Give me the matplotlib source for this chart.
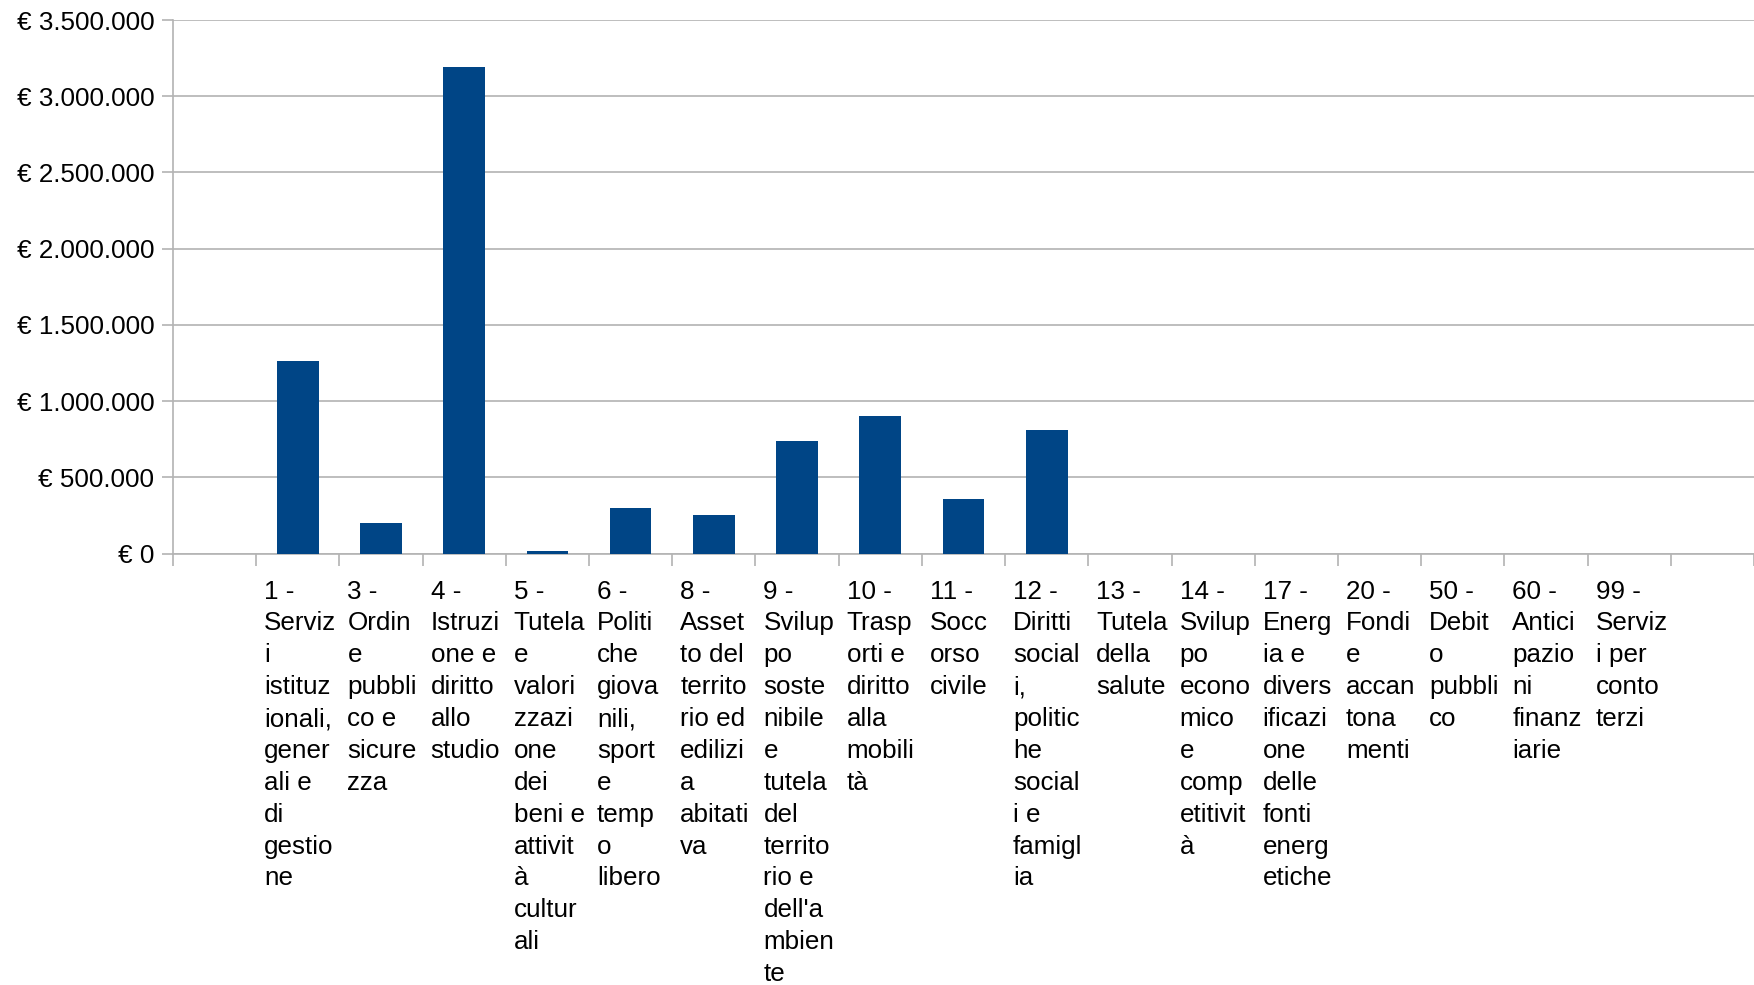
import matplotlib.pyplot as plt
import numpy as np
from matplotlib.ticker import FuncFormatter, MultipleLocator
from matplotlib.transforms import ScaledTranslation

plt.rcParams['font.family'] = ['Liberation Sans', 'DejaVu Sans']

# categories (first and last slot are empty in the original chart)
labels = ['',
          "1 -\nServiz\ni\nistituz\nionali,\ngener\nali e\ndi\ngestio\nne",
          "3 -\nOrdin\ne\npubbli\nco e\nsicure\nzza",
          "4 -\nIstruzi\none e\ndiritto\nallo\nstudio",
          "5 -\nTutela\ne\nvalori\nzzazi\none\ndei\nbeni e\nattivit\nà\ncultur\nali",
          "6 -\nPoliti\nche\ngiova\nnili,\nsport\ne\ntemp\no\nlibero",
          "8 -\nAsset\nto del\nterrito\nrio ed\nedilizi\na\nabitati\nva",
          "9 -\nSvilup\npo\nsoste\nnibile\ne\ntutela\ndel\nterrito\nrio e\ndell'a\nmbien\nte",
          "10 -\nTrasp\norti e\ndiritto\nalla\nmobili\ntà",
          "11 -\nSocc\norso\ncivile",
          "12 -\nDiritti\nsocial\ni,\npolitic\nhe\nsocial\ni e\nfamigl\nia",
          "13 -\nTutela\ndella\nsalute",
          "14 -\nSvilup\npo\necono\nmico\ne\ncomp\netitivit\nà",
          "17 -\nEnerg\nia e\ndivers\nificazi\none\ndelle\nfonti\nenerg\netiche",
          "20 -\nFondi\ne\naccan\ntona\nmenti",
          "50 -\nDebit\no\npubbli\nco",
          "60 -\nAntici\npazio\nni\nfinanz\niarie",
          "99 -\nServiz\ni per\nconto\nterzi",
          '']

values = [0, 1262000, 201000, 3192000, 17000, 300000, 254000, 740000,
          904000, 359000, 812000, 0, 0, 0, 0, 0, 0, 0, 0]

bar_color = '#004586'
grid_color = '#b3b3b3'
fs = 18.7


def euro(v, pos):
    return '€ ' + f'{int(round(v)):,}'.replace(',', '.')


fig = plt.figure(figsize=(17.54, 9.85), dpi=100)
ax = fig.add_axes([173/1754, 1 - 553.7/985, 1 - 173/1754, (553.7 - 20)/985])

x = np.arange(len(labels))
ax.bar(x, values, width=0.5, color=bar_color, zorder=3)

ax.set_xlim(-0.5, len(labels) - 0.5)
ax.set_ylim(0, 3500000)
ax.yaxis.set_major_locator(MultipleLocator(500000))
ax.yaxis.set_major_formatter(FuncFormatter(euro))
ax.grid(axis='y', color=grid_color, lw=1.2, zorder=0)

# ticks sit on slot boundaries, labels start at the left of each slot
ax.set_xticks(np.arange(len(labels) + 1) - 0.5)
ax.set_xticklabels(labels + [''], ha='left', va='top', linespacing=1.415)

ax.tick_params(axis='x', length=8.6, width=1.2, color=grid_color, pad=10, labelsize=fs)
ax.tick_params(axis='y', length=8, width=1.2, color=grid_color, pad=5.5, labelsize=fs)

offset = ScaledTranslation(8/100, 0, fig.dpi_scale_trans)
for lbl in ax.get_xticklabels():
    lbl.set_transform(lbl.get_transform() + offset)

for side in ['top', 'right']:
    ax.spines[side].set_visible(False)
for side in ['left', 'bottom']:
    ax.spines[side].set_color(grid_color)
    ax.spines[side].set_linewidth(1.2)

plt.savefig('out.png', dpi=100)
